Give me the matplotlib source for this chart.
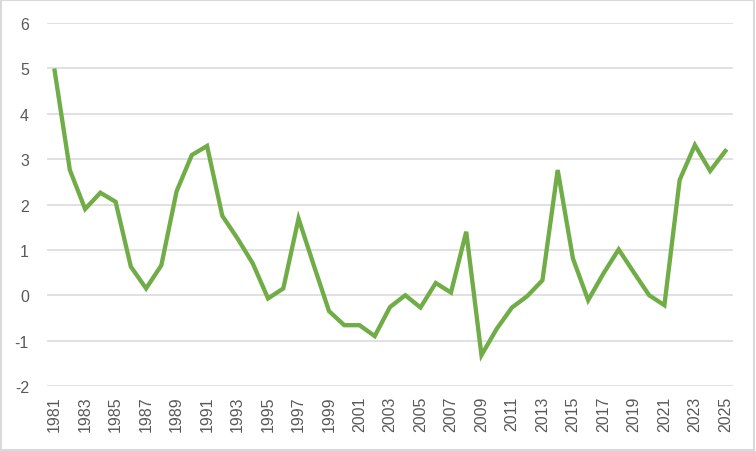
import matplotlib
matplotlib.use("Agg")
import matplotlib.pyplot as plt
from matplotlib.patches import Rectangle

# annual values
years = list(range(1981, 2026))
values = [4.95, 2.76, 1.90, 2.26, 2.06, 0.63, 0.15, 0.66, 2.29, 3.09,
          3.29, 1.75, 1.25, 0.70, -0.07, 0.15, 1.69, 0.66, -0.35, -0.66,
          -0.66, -0.90, -0.26, 0.00, -0.27, 0.27, 0.06, 1.40, -1.32, -0.74,
          -0.27, -0.02, 0.33, 2.76, 0.81, -0.11, 0.48, 1.01, 0.50, 0.00,
          -0.22, 2.54, 3.31, 2.74, 3.18]
y_ticks = list(range(-2, 7))
x_ticks = years[::2]

GREEN = "#70AD47"
GRID = "#D9D9D9"
TXT = "#595959"

plt.rcParams["font.family"] = ["Liberation Sans", "DejaVu Sans"]
plt.rcParams["axes.unicode_minus"] = False

fig = plt.figure(figsize=(7.56, 4.52), dpi=100)
ax = fig.add_axes([47 / 756, 1 - 387 / 452, 686 / 756, 363 / 452])

ax.plot(years, values, color=GREEN, lw=3.1, solid_joinstyle="miter", zorder=3)

ax.set_xlim(1980.5, 2025.5)
ax.set_ylim(-2, 6)
ax.set_yticks(y_ticks)
ax.set_xticks(x_ticks)
ax.set_xticklabels([str(y) for y in x_ticks], rotation=90)
ax.grid(axis="y", color=GRID, lw=1.1)
ax.set_axisbelow(True)
for s in ax.spines.values():
    s.set_visible(False)
ax.tick_params(length=0, colors=TXT, labelsize=11.5)
ax.tick_params(axis="y", pad=13)
ax.tick_params(axis="x", pad=7)

# chart border
fig.patches.append(Rectangle((0.001, 0.002), 0.997, 0.995, transform=fig.transFigure,
                             fill=False, edgecolor=GRID, lw=1.5))

fig.savefig("out.png", dpi=100)
